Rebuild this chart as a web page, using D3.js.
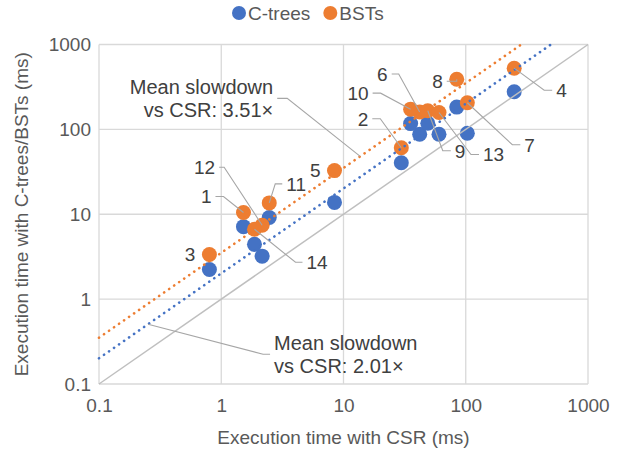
<!DOCTYPE html>
<html>
<head>
<meta charset="utf-8">
<script src="https://cdn.jsdelivr.net/npm/d3@7"></script>
<style>
  body { margin: 0; background: #fff; }
  svg text { font-family: "Liberation Sans", Arial, sans-serif; }
</style>
</head>
<body>
<svg id="chart"></svg>
<script>
// graphs 1..14, times in ms
const graphIds   = [1, 2, 3, 4, 5, 6, 7, 8, 9, 10, 11, 12, 13, 14];
const csrTimes   = [1.52, 29.7, 0.80, 249, 8.44, 42, 103, 84.4, 48.9, 35.4, 2.47, 2.16, 60.4, 1.87];
const ctreeTimes = [7.14, 40.4, 2.23, 278, 13.8, 87.5, 90, 183, 118, 117, 9.15, 3.21, 87.5, 4.42];
const bstTimes   = [10.5, 60.8, 3.36, 526, 32.7, 160, 206, 390, 166, 173, 13.6, 7.43, 158, 6.65];

const decadeTicks = [0.1, 1, 10, 100, 1000];
const ctreeSlowdown = 2.01;
const bstSlowdown = 3.51;

const seriesNames = ["C-trees", "BSTs"];
const seriesColors = ["#4472C4", "#ED7D31"];

/* where each id label goes, relative to its BST marker:
   [elbow dx, elbow dy, stub length] (stub < 0 -> text on left) */
const labelPlace = {
  1: [-20, -16, -8], 2: [-21, -29, -8], 3: [0, 0, -10], 4: [30, 22, 8],
  5: [0, 0, -10], 6: [-21, -38, -7], 7: [45, 42, 8], 8: [0, 2, -10],
  9: [15, 40, 8], 10: [-30, -16, -8], 11: [6, -19, 7], 12: [-38, -58, -5],
  13: [32, 42, 8], 14: [41, 33, 7]
};

const width = 630, height = 451;
const margin = { top: 44.5, right: 42, bottom: 67, left: 99 };

const svg = d3.select("#chart").attr("width", width).attr("height", height);

const x = d3.scaleLog().domain([0.1, 1000]).range([margin.left, width - margin.right]);
const y = d3.scaleLog().domain([0.1, 1000]).range([height - margin.bottom, margin.top]);

/* grid */
const grid = svg.append("g").attr("stroke", "#D9D9D9").attr("stroke-width", 1.3);
grid.selectAll(".vx").data(decadeTicks).enter().append("line")
  .attr("x1", d => x(d)).attr("x2", d => x(d))
  .attr("y1", y(0.1)).attr("y2", y(1000));
grid.selectAll(".hy").data(decadeTicks).enter().append("line")
  .attr("x1", x(0.1)).attr("x2", x(1000))
  .attr("y1", d => y(d)).attr("y2", d => y(d));

/* axes (labels only, lines come from the grid) */
const xAxis = d3.axisBottom(x).tickValues(decadeTicks).tickFormat(d3.format("~g")).tickSize(0).tickPadding(15);
const yAxis = d3.axisLeft(y).tickValues(decadeTicks).tickFormat(d3.format("~g")).tickSize(0).tickPadding(8);

svg.append("g").attr("transform", `translate(0,${y(0.1)})`).call(xAxis)
  .call(g => g.select(".domain").remove());
svg.append("g").attr("transform", `translate(${x(0.1)},0)`).call(yAxis)
  .call(g => g.select(".domain").remove());
svg.selectAll(".tick text")
  .attr("font-family", "Liberation Sans, Arial, sans-serif")
  .attr("font-size", 19).attr("fill", "#595959");

svg.append("text")
  .attr("x", (x(0.1) + x(1000)) / 2).attr("y", 444)
  .attr("text-anchor", "middle").attr("font-size", 19).attr("fill", "#595959")
  .text("Execution time with CSR (ms)");
svg.append("text")
  .attr("transform", `translate(28,${(y(0.1) + y(1000)) / 2}) rotate(-90)`)
  .attr("text-anchor", "middle").attr("font-size", 19).attr("fill", "#595959")
  .text("Execution time with C-trees/BSTs (ms)");

/* markers */
const points = graphIds.map((id, i) => ({ id: id, csr: csrTimes[i], ct: ctreeTimes[i], bst: bstTimes[i] }));

svg.append("g").selectAll("circle").data(points).enter().append("circle")
  .attr("cx", d => x(d.csr)).attr("cy", d => y(d.ct)).attr("r", 7.5)
  .attr("fill", seriesColors[0]);
svg.append("g").selectAll("circle").data(points).enter().append("circle")
  .attr("cx", d => x(d.csr)).attr("cy", d => y(d.bst)).attr("r", 7.5)
  .attr("fill", seriesColors[1]);

/* y = x and mean slowdown lines */
svg.append("line")
  .attr("x1", x(0.1)).attr("y1", y(0.1)).attr("x2", x(1000)).attr("y2", y(1000))
  .attr("stroke", "#BFBFBF").attr("stroke-width", 1.5);

const trend = (k, color) => {
  const xEnd = Math.min(1000, 1000 / k);
  svg.append("line")
    .attr("x1", x(0.1)).attr("y1", y(0.1 * k))
    .attr("x2", x(xEnd)).attr("y2", y(xEnd * k))
    .attr("stroke", color).attr("stroke-width", 2.6)
    .attr("stroke-linecap", "round").attr("stroke-dasharray", "0.1 6");
};
trend(bstSlowdown, seriesColors[1]);
trend(ctreeSlowdown, seriesColors[0]);

/* leader labels */
const leader = (px, py, ex, ey, stub, lines, size, color) => {
  const sx = ex + stub;
  if (ex !== 0 || ey !== 0) {
    svg.append("polyline")
      .attr("points", `${px},${py} ${px + ex},${py + ey} ${px + sx},${py + ey}`)
      .attr("fill", "none").attr("stroke", "#A6A6A6").attr("stroke-width", 1.1);
  }
  const tx = px + sx + (stub < 0 ? -4 : 4);
  const t = svg.append("text")
    .attr("text-anchor", stub < 0 ? "end" : "start")
    .attr("font-size", size).attr("fill", color);
  lines.forEach((s, i) => {
    t.append("tspan").attr("x", tx)
      .attr("y", py + ey + (i - (lines.length - 1) / 2) * 23)
      .attr("dy", "0.36em").text(s);
  });
};

points.forEach(d => {
  const p = labelPlace[d.id];
  leader(x(d.csr), y(d.bst), p[0], p[1], p[2], [String(d.id)], 19, "#404040");
});

const bstAt = 13.7, ctAt = 0.252;
leader(x(bstAt), y(bstAt * bstSlowdown), -73, -58, -10,
  ["Mean slowdown", `vs CSR: ${bstSlowdown.toFixed(2)}×`], 20, "#404040");
leader(x(ctAt), y(ctAt * ctreeSlowdown), 115, 30, 7,
  ["Mean slowdown", `vs CSR: ${ctreeSlowdown.toFixed(2)}×`], 20, "#404040");

/* legend */
const legend = svg.append("g").attr("transform", "translate(239,13)");
let lx = 0;
seriesNames.forEach((name, i) => {
  const g = legend.append("g").attr("transform", `translate(${lx},0)`);
  g.append("circle").attr("r", 7).attr("fill", seriesColors[i]);
  const t = g.append("text").attr("x", 9).attr("dy", "0.36em")
    .attr("font-size", 19).attr("fill", "#595959").text(name);
  lx += 9 + t.node().getComputedTextLength() + 20;
});
</script>
</body>
</html>
